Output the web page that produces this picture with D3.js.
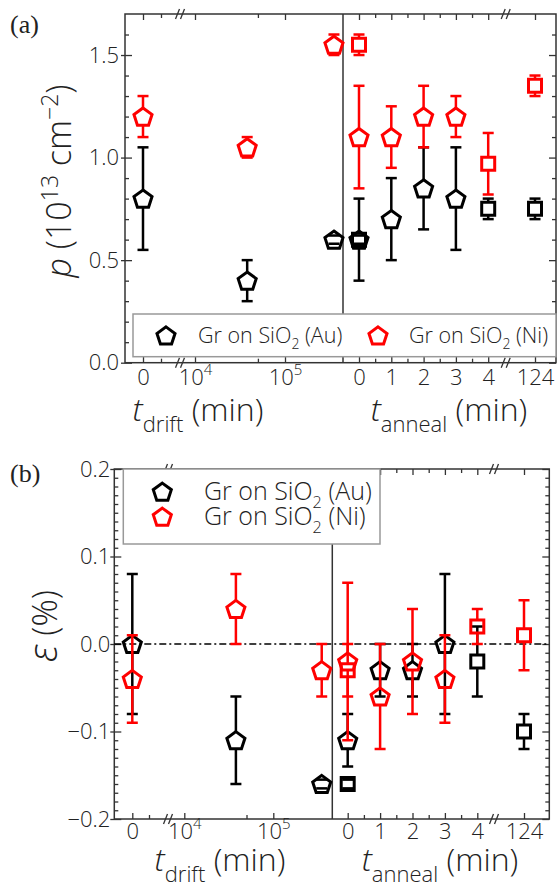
<!DOCTYPE html>
<html>
<head>
<meta charset="utf-8">
<script src="https://cdn.jsdelivr.net/npm/d3@7"></script>
<style>
body { margin: 0; background: #fff; }
svg text { font-family: "Open Sans", "Noto Sans", sans-serif; fill: #222; }
</style>
</head>
<body>
<div id="chart"></div>
<script>
// ---- data ----
const driftTimes = [0, 3.8e4, 3.5e5];       // min
const annealTimes = [0, 1, 2, 3];           // pentagon samples
const annealSqTimes = [0, 4, 124];          // square samples

// (a) carrier density p (1e13 cm^-2)
const pAuDrift = [0.8, 0.4, 0.6];
const pAuDriftErr = [0.25, 0.1, 0.02];
const pNiDrift = [1.2, 1.05, 1.55];
const pNiDriftErr = [0.1, 0.05, 0.05];
const pAuAnneal = [0.6, 0.7, 0.85, 0.8];
const pAuAnnealErr = [0.2, 0.2, 0.2, 0.25];
const pNiAnneal = [1.1, 1.1, 1.2, 1.2];
const pNiAnnealErr = [0.25, 0.15, 0.15, 0.1];
const pAuAnnealSq = [0.6, 0.75, 0.75];
const pAuAnnealSqErr = [0.02, 0.05, 0.05];
const pNiAnnealSq = [1.55, 0.97, 1.35];
const pNiAnnealSqErr = [0.05, 0.15, 0.05];

// (b) strain eps (%)
const eAuDrift = [0, -0.11, -0.16];
const eAuDriftErr = [0.08, 0.05, 0.005];
const eNiDrift = [-0.04, 0.04, -0.03];
const eNiDriftErr = [0.05, 0.04, 0.03];
const eAuAnneal = [-0.11, -0.03, -0.03, 0.0];
const eAuAnnealErr = [0.03, 0.03, 0.03, 0.08];
const eNiAnneal = [-0.02, -0.06, -0.02, -0.04];
const eNiAnnealErr = [0.09, 0.06, 0.06, 0.05];
const eAuAnnealSq = [-0.16, -0.02, -0.10];
const eAuAnnealSqErr = [0.005, 0.04, 0.02];
const eNiAnnealSq = [-0.03, 0.02, 0.01];
const eNiAnnealSqErr = [0.03, 0.02, 0.04];

// ---- ticks and labels ----
const driftZeroTicks = [0];
const driftZeroMinor = [1];
const driftLogTicks = [1e4, 1e5];
const driftLogMinor = [5e4];
const annealTicks = [0, 1, 2, 3, 4];
const annealMinor = [0.5, 1.5, 2.5, 3.5];
const tailTicks = [124];
const pTicks = [0, 0.5, 1.0, 1.5];
const eTicks = [-0.2, -0.1, 0, 0.1, 0.2];
const legendLabels = ['Au', 'Ni'];
const colours = { Au: '#000000', Ni: '#ff0000' };

const W = 558, H = 887;
const svg = d3.select('#chart').append('svg').attr('width', W).attr('height', H);
const frameColour = '#333';

function pentagonPath(cx, cy, r) {
    const off = 0.095 * r;
    const pts = d3.range(5).map((k) => {
        const a = -Math.PI / 2 + (k * 2 * Math.PI) / 5;
        return [cx + r * Math.cos(a), cy + off + r * Math.sin(a)];
    });
    return 'M' + pts.map((p) => p.join(',')).join('L') + 'Z';
}

function squarePath(cx, cy, h) {
    return `M${cx - h},${cy - h}H${cx + h}V${cy + h}H${cx - h}Z`;
}

function drawSeries(g, times, vals, errs, xf, y, shape, colour) {
    const gap = shape === 'pent' ? 9 : 7;
    const capW = 5.5;
    times.forEach((t, i) => {
        const cx = xf(t);
        const cy = y(vals[i]);
        const yHi = y(vals[i] + errs[i]);
        const yLo = y(vals[i] - errs[i]);
        const eb = g.append('g').attr('stroke', colour).attr('stroke-width', 2.5).attr('fill', 'none');
        if (cy - gap > yHi) eb.append('line').attr('x1', cx).attr('x2', cx).attr('y1', yHi).attr('y2', cy - gap);
        if (cy + gap < yLo) eb.append('line').attr('x1', cx).attr('x2', cx).attr('y1', cy + gap).attr('y2', yLo);
        [yHi, yLo].forEach((yy) => {
            eb.append('line').attr('x1', cx - capW).attr('x2', cx + capW).attr('y1', yy).attr('y2', yy);
        });
        g.append('path')
            .attr('d', shape === 'pent' ? pentagonPath(cx, cy, 9.5) : squarePath(cx, cy, 6.5))
            .attr('fill', 'none')
            .attr('stroke', colour)
            .attr('stroke-width', 3)
            .attr('stroke-linejoin', 'miter');
    });
}

function styleAxis(axis) {
    axis.select('.domain').remove();
    axis.selectAll('line').attr('stroke', frameColour).attr('stroke-width', 1.3);
    axis.selectAll('text').attr('fill', '#222').attr('font-size', 22).attr('font-weight', 300);
}

function breakMark(g, x, y) {
    [-2.5, 2.5].forEach((dx) => {
        g.append('line')
            .attr('x1', x + dx - 2).attr('y1', y + 5)
            .attr('x2', x + dx + 2).attr('y2', y - 5)
            .attr('stroke', frameColour).attr('stroke-width', 1.3);
    });
}

function drawPanel(c) {
    const g = svg.append('g');
    const y = d3.scaleLinear().domain(c.yDomain).range([c.bottom, c.top]);
    const zeroS = d3.scaleLinear().domain([0, 1]).range([c.zeroX, c.zeroX + c.zeroStep]);
    const logS = d3.scaleLog().domain([1e4, 1e5]).range([c.decadeX, c.decadeX + c.decade]);
    const annS = d3.scaleLinear().domain([0, 1]).range([c.annX, c.annX + c.annUnit]);
    const tailS = d3.scaleLinear().domain([124, 125]).range([c.tailX, c.tailX + c.annUnit]);
    const xDrift = (t) => (t === 0 ? zeroS(t) : logS(t));
    const xAnneal = (t) => (t <= 4 ? annS(t) : tailS(t));

    // frame and divider
    g.append('rect')
        .attr('x', c.left).attr('y', c.top)
        .attr('width', c.right - c.left).attr('height', c.bottom - c.top)
        .attr('fill', 'none').attr('stroke', frameColour).attr('stroke-width', 1.5);
    g.append('line')
        .attr('x1', c.div).attr('x2', c.div).attr('y1', c.top).attr('y2', c.bottom)
        .attr('stroke', frameColour).attr('stroke-width', 1.5);

    // x axes (one per segment of the broken axis)
    const segs = [
        { s: zeroS, major: driftZeroTicks, minor: driftZeroMinor, log: false },
        { s: logS, major: driftLogTicks, minor: driftLogMinor, log: true },
        { s: annS, major: annealTicks, minor: annealMinor, log: false },
        { s: tailS, major: tailTicks, minor: [], log: false },
    ];
    segs.forEach((sg) => {
        const bot = g.append('g').attr('transform', `translate(0,${c.bottom})`)
            .call(d3.axisBottom(sg.s).tickValues(sg.major).tickSize(-6).tickPadding(c.xPad)
                .tickFormat((d) => (sg.log ? '10' : d3.format('d')(d))));
        styleAxis(bot);
        if (sg.log) {
            bot.selectAll('.tick text').each(function (d) {
                d3.select(this).append('tspan')
                    .attr('dy', -10).attr('font-size', 15)
                    .text(Math.round(Math.log10(d)));
            });
        }
        const botMinor = g.append('g').attr('transform', `translate(0,${c.bottom})`)
            .call(d3.axisBottom(sg.s).tickValues(sg.minor).tickSize(-4).tickFormat(''));
        styleAxis(botMinor);
        const top = g.append('g').attr('transform', `translate(0,${c.top})`)
            .call(d3.axisTop(sg.s).tickValues(sg.major).tickSize(-6).tickFormat(''));
        styleAxis(top);
        const topMinor = g.append('g').attr('transform', `translate(0,${c.top})`)
            .call(d3.axisTop(sg.s).tickValues(sg.minor).tickSize(-4).tickFormat(''));
        styleAxis(topMinor);
    });
    [c.breakD, c.breakA].forEach((bx) => {
        breakMark(g, bx, c.top);
        breakMark(g, bx, c.bottom);
    });

    // y axes
    const yl = g.append('g').attr('transform', `translate(${c.left},0)`)
        .call(d3.axisLeft(y).tickValues(c.yTicks).tickSizeInner(-7).tickSizeOuter(0)
            .tickPadding(c.yPad).tickFormat(d3.format('.1f')));
    styleAxis(yl);
    yl.selectAll('.tick line').attr('x1', -4);
    const ylMinor = g.append('g').attr('transform', `translate(${c.left},0)`)
        .call(d3.axisLeft(y).tickValues(c.yMinor).tickSize(-4).tickFormat(''));
    styleAxis(ylMinor);
    const yr = g.append('g').attr('transform', `translate(${c.right},0)`)
        .call(d3.axisRight(y).tickValues(c.yTicks).tickSize(-7).tickFormat(''));
    styleAxis(yr);
    const yrMinor = g.append('g').attr('transform', `translate(${c.right},0)`)
        .call(d3.axisRight(y).tickValues(c.yMinor).tickSize(-4).tickFormat(''));
    styleAxis(yrMinor);

    if (c.zeroLine) {
        g.append('line')
            .attr('x1', c.left).attr('x2', c.right).attr('y1', y(0)).attr('y2', y(0))
            .attr('stroke', '#000').attr('stroke-width', 1.3).attr('stroke-dasharray', '7,3,2,3');
    }

    // data: Au first, Ni on top
    const d = c.data;
    drawSeries(g, driftTimes, d.auDrift, d.auDriftErr, xDrift, y, 'pent', colours.Au);
    drawSeries(g, annealTimes, d.auAnneal, d.auAnnealErr, xAnneal, y, 'pent', colours.Au);
    drawSeries(g, annealSqTimes, d.auSq, d.auSqErr, xAnneal, y, 'sq', colours.Au);
    drawSeries(g, driftTimes, d.niDrift, d.niDriftErr, xDrift, y, 'pent', colours.Ni);
    drawSeries(g, annealTimes, d.niAnneal, d.niAnnealErr, xAnneal, y, 'pent', colours.Ni);
    drawSeries(g, annealSqTimes, d.niSq, d.niSqErr, xAnneal, y, 'sq', colours.Ni);

    // legend
    const L = c.legend;
    g.append('rect')
        .attr('x', L.x).attr('y', L.y).attr('width', L.w).attr('height', L.h)
        .attr('fill', '#fff').attr('stroke', '#999').attr('stroke-width', 1.5);
    legendLabels.forEach((lab, i) => {
        const [mx, my] = L.markers[i];
        const [tx, ty] = L.texts[i];
        g.append('path').attr('d', pentagonPath(mx, my, 9.5))
            .attr('fill', 'none').attr('stroke', colours[lab]).attr('stroke-width', 3);
        const t = g.append('text').attr('x', tx).attr('y', ty).attr('font-size', L.fs).attr('font-weight', 300);
        t.append('tspan').text('Gr on SiO');
        t.append('tspan').attr('dy', L.fs * 0.3).attr('font-size', L.fs * 0.65).text('2');
        t.append('tspan').attr('dy', -L.fs * 0.3).text(` (${lab})`);
    });

    // axis titles
    c.xTitles.forEach((xt) => {
        const t = g.append('text').attr('x', xt.x).attr('y', c.xTitleY)
            .attr('text-anchor', 'middle').attr('font-size', 32).attr('font-weight', 300);
        t.append('tspan').attr('font-style', 'italic').text('t');
        t.append('tspan').attr('dy', 11).attr('font-size', 22).text(xt.sub);
        t.append('tspan').attr('dy', -11).text(' (min)');
    });
    c.yTitle(g);

    svg.append('text').attr('x', 10).attr('y', c.tag[1])
        .style('font-family', '"Liberation Serif", serif').attr('font-size', 26).text(c.tag[0]);
}

drawPanel({
    left: 125, right: 556, top: 14, bottom: 362.7, div: 343,
    zeroX: 143, zeroStep: 18, decadeX: 195, decade: 90,
    annX: 359, annUnit: 32.3, tailX: 535, breakD: 180, breakA: 505.7,
    yDomain: [0, 1.7], yTicks: pTicks,
    yMinor: d3.range(1, 17).map((k) => k / 10).filter((v) => Math.round(v * 10) % 5 !== 0),
    xPad: 7, yPad: 6, xTitleY: 421,
    xTitles: [{ x: 198, sub: 'drift' }, { x: 449, sub: 'anneal' }],
    legend: {
        x: 133, y: 314, w: 423, h: 42.7, fs: 21.5,
        markers: [[166, 335.5], [378, 335.5]],
        texts: [[198, 343], [409, 343]],
    },
    data: {
        auDrift: pAuDrift, auDriftErr: pAuDriftErr, niDrift: pNiDrift, niDriftErr: pNiDriftErr,
        auAnneal: pAuAnneal, auAnnealErr: pAuAnnealErr, niAnneal: pNiAnneal, niAnnealErr: pNiAnnealErr,
        auSq: pAuAnnealSq, auSqErr: pAuAnnealSqErr, niSq: pNiAnnealSq, niSqErr: pNiAnnealSqErr,
    },
    yTitle: (g) => {
        const t = g.append('text').attr('transform', 'translate(71,181) rotate(-90)')
            .attr('text-anchor', 'middle').attr('font-size', 34).attr('font-weight', 300);
        t.append('tspan').attr('font-style', 'italic').text('p');
        t.append('tspan').text(' (10');
        t.append('tspan').attr('dy', -13).attr('font-size', 23).text('13');
        t.append('tspan').attr('dy', 13).text(' cm');
        t.append('tspan').attr('dy', -13).attr('font-size', 23).text('\u22122');
        t.append('tspan').attr('dy', 13).text(')');
    },
    tag: ['(a)', 33],
});

drawPanel({
    left: 114.3, right: 549.3, top: 469, bottom: 819, div: 332.3,
    zeroX: 132.3, zeroStep: 16.7, decadeX: 184.3, decade: 89,
    annX: 347.7, annUnit: 32.4, tailX: 524, breakD: 168, breakA: 494,
    yDomain: [-0.2, 0.2], yTicks: eTicks,
    yMinor: d3.range(-19, 20).filter((k) => k % 10 !== 0).map((k) => k / 100),
    xPad: 4, yPad: 4, xTitleY: 871, zeroLine: true,
    xTitles: [{ x: 220, sub: 'drift' }, { x: 440, sub: 'anneal' }],
    legend: {
        x: 123.3, y: 469, w: 256.7, h: 75, fs: 25,
        markers: [[162.3, 491.7], [162.3, 516.7]],
        texts: [[204, 500], [204, 525]],
    },
    data: {
        auDrift: eAuDrift, auDriftErr: eAuDriftErr, niDrift: eNiDrift, niDriftErr: eNiDriftErr,
        auAnneal: eAuAnneal, auAnnealErr: eAuAnnealErr, niAnneal: eNiAnneal, niAnnealErr: eNiAnnealErr,
        auSq: eAuAnnealSq, auSqErr: eAuAnnealSqErr, niSq: eNiAnnealSq, niSqErr: eNiAnnealSqErr,
    },
    yTitle: (g) => {
        const t = g.append('text').attr('transform', 'translate(57,626) rotate(-90)')
            .attr('text-anchor', 'middle').attr('font-size', 34).attr('font-weight', 300);
        t.append('tspan').attr('font-style', 'italic').attr('font-size', 40).text('\u03b5');
        t.append('tspan').text(' (%)');
    },
    tag: ['(b)', 482],
});
</script>
</body>
</html>
